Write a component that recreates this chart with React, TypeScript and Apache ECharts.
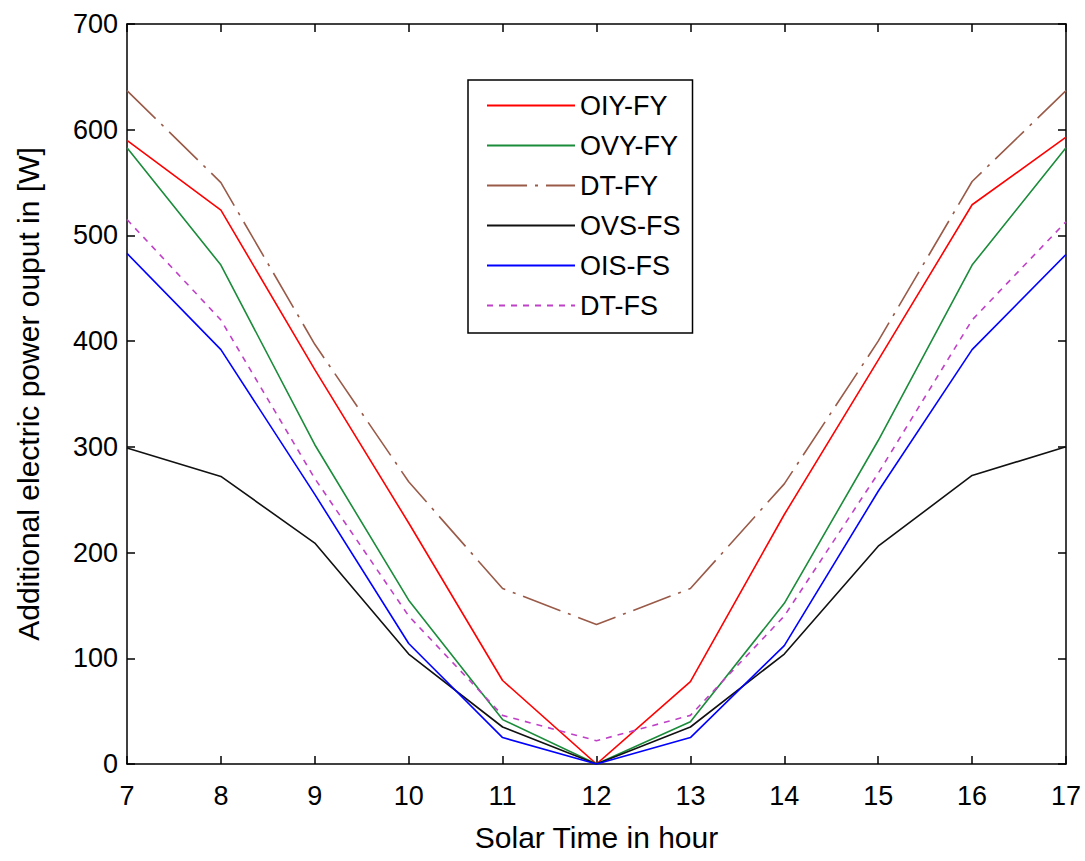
import React, { useEffect, useRef } from "react";
import * as echarts from "echarts";

const hours = [7, 8, 9, 10, 11, 12, 13, 14, 15, 16, 17];
const oiyFy = [590, 524, 373, 228, 79, 0, 78, 236, 382, 529, 593];
const ovyFy = [583, 472, 302, 155, 42, 0, 40, 152, 306, 472, 583];
const dtFy = [637, 550, 397, 267, 166, 132, 166, 265, 400, 551, 637];
const ovsFs = [299, 272, 209, 104, 35, 0, 35, 104, 206, 273, 300];
const oisFs = [483, 392, 255, 114, 25, 0, 25, 112, 258, 392, 482];
const dtFs = [515, 420, 270, 140, 46, 22, 46, 140, 275, 420, 513];
const legendNames = ["OIY-FY", "OVY-FY", "DT-FY", "OVS-FS", "OIS-FS", "DT-FS"];

const FONT = "'Liberation Sans', Arial, sans-serif";

function pairs(vals: number[]) {
  return hours.map((h, i) => [h, vals[i]]);
}

export default function App() {
  const ref = useRef<HTMLDivElement>(null);
  useEffect(() => {
    if (!ref.current) return;
    const chart = echarts.init(ref.current, null, { renderer: "svg" });
    const axisLine = { show: true, onZero: false, lineStyle: { color: "#000", width: 1.5 } };
    const tick = { show: true, inside: true, length: 8, lineStyle: { color: "#000", width: 1.5 } };
    const mk = (name: string, data: number[], color: string, type: any, width = 1.6) => ({
      name,
      type: "line",
      data: pairs(data),
      symbol: "none",
      showSymbol: false,
      lineStyle: { color, width, type },
      itemStyle: { color },
    });
    chart.setOption({
      animation: false,
      backgroundColor: "#fff",
      textStyle: { fontFamily: FONT },
      grid: { left: 127, right: 19, top: 24, bottom: 97, containLabel: false },
      xAxis: [
        {
          type: "value",
          min: 7,
          max: 17,
          interval: 1,
          position: "bottom",
          axisLine,
          axisTick: tick,
          splitLine: { show: false },
          axisLabel: { color: "#000", fontSize: 27, margin: 18, fontFamily: FONT },
          name: "Solar Time in hour",
          nameLocation: "middle",
          nameGap: 58,
          nameTextStyle: { color: "#000", fontSize: 30, fontFamily: FONT },
        },
        {
          type: "value",
          min: 7,
          max: 17,
          interval: 1,
          position: "top",
          axisLine,
          axisTick: tick,
          splitLine: { show: false },
          axisLabel: { show: false },
        },
      ],
      yAxis: [
        {
          type: "value",
          min: 0,
          max: 700,
          interval: 100,
          position: "left",
          axisLine,
          axisTick: tick,
          splitLine: { show: false },
          axisLabel: { color: "#000", fontSize: 27, margin: 9, fontFamily: FONT },
          name: "Additional electric power ouput in [W]",
          nameLocation: "middle",
          nameGap: 84,
          nameTextStyle: { color: "#000", fontSize: 30, fontFamily: FONT },
        },
        {
          type: "value",
          min: 0,
          max: 700,
          interval: 100,
          position: "right",
          axisLine,
          axisTick: tick,
          splitLine: { show: false },
          axisLabel: { show: false },
        },
      ],
      legend: {
        orient: "vertical",
        left: 468,
        top: 80,
        padding: [12, 12, 14, 18],
        itemGap: 13,
        itemWidth: 88,
        itemHeight: 14,
        backgroundColor: "#fff",
        borderColor: "#000",
        borderWidth: 1.5,
        itemStyle: { opacity: 0 },
        textStyle: { color: "#000", fontSize: 27, fontFamily: FONT },
        data: legendNames,
      },
      series: [
        mk(legendNames[0], oiyFy, "#ff0000", "solid"),
        mk(legendNames[1], ovyFy, "#1a8c3a", "solid"),
        mk(legendNames[2], dtFy, "#9a5a48", [40, 8, 3, 8]),
        mk(legendNames[3], ovsFs, "#111111", "solid"),
        mk(legendNames[4], oisFs, "#0000ff", "solid"),
        mk(legendNames[5], dtFs, "#c040c8", [6, 6]),
      ],
    });
    return () => chart.dispose();
  }, []);
  return <div ref={ref} style={{ width: 1085, height: 861, position: "absolute", left: 0, top: 0 }} />;
}
